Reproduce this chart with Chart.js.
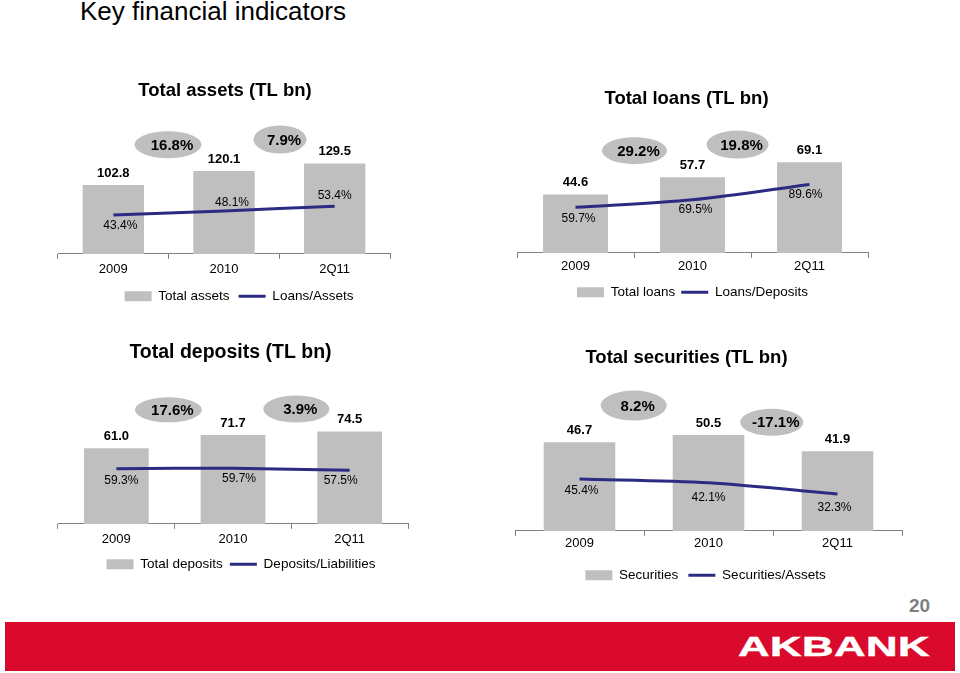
<!DOCTYPE html>
<html>
<head>
<meta charset="utf-8">
<script src="https://cdn.jsdelivr.net/npm/chart.js@4/dist/chart.umd.min.js"></script>
<style>
  html, body { margin: 0; padding: 0; background: #fff; }
  body { width: 960px; height: 673px; position: relative; overflow: hidden; font-family: "Liberation Sans", Arial, sans-serif; }
  canvas { position: absolute; }
  #slideTitle { position: absolute; left: 80px; top: -2px; font-size: 26px; line-height: 26px; color: #000; white-space: nowrap; }
  #pageNo { position: absolute; left: 909px; top: 596px; font-size: 19px; line-height: 19px; font-weight: bold; color: #7f7f7f; }
  #band { position: absolute; left: 5px; top: 622px; width: 950px; height: 49px; background: #da0a2c; }
  #logo { position: absolute; left: 738px; top: 632px; font-size: 28px; line-height: 30px; font-weight: bold; color: #fff; transform: scaleX(1.56); transform-origin: left top; letter-spacing: 0.3px; -webkit-text-stroke: 0.5px #fff; }
</style>
</head>
<body>
<div id="slideTitle">Key financial indicators</div>
<canvas id="c1" width="370" height="233" style="left:40px;top:80px"></canvas>
<canvas id="c2" width="379" height="221" style="left:497px;top:88px"></canvas>
<canvas id="c3" width="381" height="240" style="left:40px;top:341px"></canvas>
<canvas id="c4" width="447" height="245" style="left:463px;top:347px"></canvas>
<div id="pageNo">20</div>
<div id="band"></div>
<div id="logo">AKBANK</div>
<script>
// ---------- data ----------
const years = ['2009', '2010', '2Q11'];

const totalAssets = [102.8, 120.1, 129.5];
const loansToAssets = [43.4, 48.1, 53.4];
const assetsGrowth = [16.8, 7.9];

const totalLoans = [44.6, 57.7, 69.1];
const loansToDeposits = [59.7, 69.5, 89.6];
const loansGrowth = [29.2, 19.8];

const totalDeposits = [61.0, 71.7, 74.5];
const depositsToLiabilities = [59.3, 59.7, 57.5];
const depositsGrowth = [17.6, 3.9];

const securities = [46.7, 50.5, 41.9];
const securitiesToAssets = [45.4, 42.1, 32.3];
const securitiesGrowth = [8.2, -17.1];

// ---------- styles ----------
const FONT = '"Liberation Sans", Arial, sans-serif';
const BAR_COLOR = '#bfbfbf';
const LINE_COLOR = '#2b2b84';
const OVAL_COLOR = '#bfbfbf';
const AXIS_COLOR = '#808080';

Chart.defaults.font.family = FONT;
Chart.defaults.color = '#000';

const slideLabels = {
  id: 'slideLabels',
  afterLayout(chart, args, o) {
    if (o.legendShift && chart.legend) {
      chart.legend.left += o.legendShift;
      chart.legend.right += o.legendShift;
    }
  },
  afterDatasetsDraw(chart, args, o) {
    const ctx = chart.ctx;
    const barMeta = chart.getDatasetMeta(0);
    const lineMeta = chart.getDatasetMeta(1);
    const bars = chart.data.datasets[0].data;
    const pts = chart.data.datasets[1].data;
    ctx.save();
    ctx.textAlign = 'center';
    ctx.textBaseline = 'middle';
    ctx.fillStyle = '#000';
    ctx.font = 'bold 13px ' + FONT;
    barMeta.data.forEach((el, i) => {
      ctx.fillText(bars[i].toFixed(1), el.x, el.y - 12);
    });
    ctx.font = '12px ' + FONT;
    lineMeta.data.forEach((el, i) => {
      const off = o.pctOffsets[i];
      ctx.fillText(pts[i].toFixed(1) + '%', el.x + off[0], el.y + off[1]);
    });
    const xs = chart.scales.x, ys = chart.scales.y;
    o.growth.forEach((g, i) => {
      const ov = o.ovals[i];
      const cx = xs.getPixelForValue(ov.at);
      const cy = ys.getPixelForValue(ov.level);
      ctx.beginPath();
      ctx.ellipse(cx, cy, ov.w / 2, ov.h / 2, 0, 0, Math.PI * 2);
      ctx.fillStyle = OVAL_COLOR;
      ctx.fill();
      ctx.fillStyle = '#000';
      ctx.font = 'bold 15px ' + FONT;
      ctx.fillText(g.toFixed(1) + '%', cx + 4, cy + 1);
    });
    ctx.restore();
  }
};

function makeChart(id, spec) {
  return new Chart(document.getElementById(id), {
    type: 'bar',
    data: {
      labels: years,
      datasets: [
        {
          type: 'bar', label: spec.barLabel, data: spec.bars,
          backgroundColor: BAR_COLOR, borderWidth: 0, yAxisID: 'y',
          base: spec.yBar.min,
          barPercentage: 0.555, categoryPercentage: 1, order: 2, pointStyle: 'rect'
        },
        {
          type: 'line', label: spec.lineLabel, data: spec.line,
          borderColor: LINE_COLOR, backgroundColor: LINE_COLOR, borderWidth: 3,
          pointRadius: 0, tension: 0.3, yAxisID: 'y1', order: 1, pointStyle: 'line'
        }
      ]
    },
    options: {
      responsive: false,
      animation: false,
      events: [],
      layout: { padding: 0, autoPadding: false },
      scales: {
        x: {
          offset: true,
          grid: { display: true, drawOnChartArea: false, drawTicks: true, tickLength: 5, offset: true, color: AXIS_COLOR, lineWidth: 1 },
          border: { display: true, color: AXIS_COLOR, width: 1 },
          ticks: { font: { size: 13 }, color: '#000', padding: spec.tickPad, maxRotation: 0 }
        },
        y: {
          position: 'left', min: spec.yBar.min, max: spec.yBar.max,
          ticks: { display: false }, grid: { display: false }, border: { display: false },
          afterFit: s => { s.width = spec.wl; }
        },
        y1: {
          position: 'right', min: spec.yLine.min, max: spec.yLine.max,
          ticks: { display: false }, grid: { display: false }, border: { display: false },
          afterFit: s => { s.width = spec.wr; }
        }
      },
      plugins: {
        tooltip: { enabled: false },
        title: {
          display: true, text: spec.title, color: '#000',
          font: { size: spec.titleSize, weight: 'bold' },
          padding: { top: 0, bottom: spec.titleGap }
        },
        legend: {
          position: 'bottom', fullSize: false,
          title: {
            display: spec.legendSpacer > 0, text: '', font: { size: 1 },
            padding: { top: Math.max(0, spec.legendSpacer - 1.2), bottom: 0 }
          },
          labels: {
            usePointStyle: true, pointStyleWidth: 27, boxHeight: 10,
            font: { size: 13.5 }, color: '#000', padding: spec.legendPad,
            sort: (a, b) => a.datasetIndex - b.datasetIndex,
            generateLabels: (chart) => {
              const items = Chart.defaults.plugins.legend.labels.generateLabels(chart);
              items.forEach(it => {
                if (it.datasetIndex === 0) { it.pointStyle = 'rect'; it.fillStyle = BAR_COLOR; it.lineWidth = 0; }
                else { it.pointStyle = 'line'; it.strokeStyle = LINE_COLOR; it.lineWidth = 3; }
              });
              return items;
            }
          }
        },
        slideLabels: {
          growth: spec.growth, ovals: spec.ovals, pctOffsets: spec.pctOffsets, legendShift: spec.legendShift
        }
      }
    },
    plugins: [slideLabels]
  });
}

makeChart('c1', {
  title: 'Total assets (TL bn)', titleSize: 18.5, barLabel: 'Total assets', lineLabel: 'Loans/Assets',
  bars: totalAssets, line: loansToAssets, growth: assetsGrowth,
  wl: 18, wr: 20, titleGap: 16.2, tickPad: 3, legendPad: 9, legendSpacer: 0, legendShift: 15,
  yBar: { min: 18, max: 185 }, yLine: { min: 0, max: 151.6 },
  ovals: [{ at: 0.494, level: 152.6, w: 67, h: 27 }, { at: 1.506, level: 159, w: 53, h: 28 }],
  pctOffsets: [[7, 11], [8, -8], [0, -10]]
});

makeChart('c2', {
  title: 'Total loans (TL bn)', titleSize: 18.5, barLabel: 'Total loans', lineLabel: 'Loans/Deposits',
  bars: totalLoans, line: loansToDeposits, growth: loansGrowth,
  wl: 20, wr: 8, titleGap: 16.2, tickPad: 1, legendPad: 6, legendSpacer: 4, legendShift: 0,
  yBar: { min: 0, max: 96.5 }, yLine: { min: 0, max: 165.5 },
  ovals: [{ at: 0.504, level: 78, w: 65, h: 27 }, { at: 1.385, level: 82.6, w: 62, h: 28 }],
  pctOffsets: [[3, 11], [3, 10], [-4, 10]]
});

makeChart('c3', {
  title: 'Total deposits (TL bn)', titleSize: 19.5, barLabel: 'Total deposits', lineLabel: 'Deposits/Liabilities',
  bars: totalDeposits, line: depositsToLiabilities, growth: depositsGrowth,
  wl: 18, wr: 13, titleGap: 28.2, tickPad: 3, legendPad: 7, legendSpacer: 0, legendShift: 8,
  yBar: { min: 0, max: 105.9 }, yLine: { min: 0, max: 140.9 },
  ovals: [{ at: 0.446, level: 92, w: 67, h: 25 }, { at: 1.543, level: 92.6, w: 66, h: 27 }],
  pctOffsets: [[5, 12], [6, 10], [-9, 10]]
});

makeChart('c4', {
  title: 'Total securities (TL bn)', titleSize: 18.5, barLabel: 'Securities', lineLabel: 'Securities/Assets',
  bars: securities, line: securitiesToAssets, growth: securitiesGrowth,
  wl: 52, wr: 8, titleGap: 17.2, tickPad: 0, legendPad: 10, legendSpacer: 7, legendShift: -3,
  yBar: { min: 0, max: 76.1 }, yLine: { min: 0, max: 126.4 },
  ovals: [{ at: 0.42, level: 66, w: 66, h: 30 }, { at: 1.49, level: 57.2, w: 63, h: 27 }],
  pctOffsets: [[2, 12], [0, 15], [-3, 14]]
});
</script>
</body>
</html>
